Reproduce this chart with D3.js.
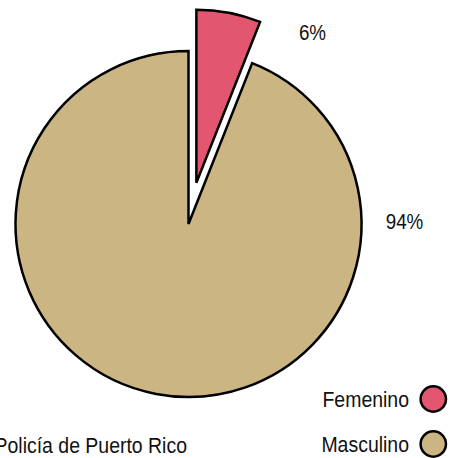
<!DOCTYPE html>
<html>
<head>
<meta charset="utf-8">
<script src="https://cdn.jsdelivr.net/npm/d3@7"></script>
<style>
  body { margin: 0; background: #fff; }
  text { font-family: "Liberation Sans", Arial, sans-serif; fill: #111; }
</style>
</head>
<body>
<svg id="chart" width="456" height="458"></svg>
<script>
// data
const categories = ['Femenino', 'Masculino'];
const values = [6, 94];
const labels = ['6%', '94%'];
const colors = ['#E2566F', '#CAB583'];
const caption = 'Policía de Puerto Rico';

const svg = d3.select('#chart');
const cx = 188.5, cy = 224, r = 173;
const explode = [42, 0];

const pie = d3.pie().sort(null).value(d => d)(values);
const arc = d3.arc().innerRadius(0).outerRadius(r);

const g = svg.append('g').attr('transform', `translate(${cx},${cy})`);

g.selectAll('path.slice')
  .data(pie)
  .join('path')
  .attr('class', 'slice')
  .attr('d', arc)
  .attr('transform', (d, i) => {
    const a = (d.startAngle + d.endAngle) / 2;
    return `translate(${Math.sin(a) * explode[i]},${-Math.cos(a) * explode[i]})`;
  })
  .attr('fill', (d, i) => colors[i])
  .attr('stroke', '#000')
  .attr('stroke-width', 2.5)
  .attr('stroke-linejoin', 'miter');

// percentage labels (slightly condensed type, like the original)
const labelPos = [[124, -184], [216, 5]];
g.selectAll('text.pct')
  .data(pie)
  .join('text')
  .attr('class', 'pct')
  .attr('transform', (d, i) => `translate(${labelPos[i][0]},${labelPos[i][1]}) scale(0.84,1)`)
  .attr('text-anchor', 'middle')
  .attr('font-size', 22.4)
  .text((d, i) => labels[i]);

// legend
const legend = svg.append('g');
const ly = d3.scalePoint().domain(categories).range([399, 444]);
legend.selectAll('circle')
  .data(categories)
  .join('circle')
  .attr('cx', 433.3)
  .attr('cy', d => ly(d))
  .attr('r', 12.7)
  .attr('fill', (d, i) => colors[i])
  .attr('stroke', '#000')
  .attr('stroke-width', 2.5);
legend.selectAll('text')
  .data(categories)
  .join('text')
  .attr('transform', d => `translate(409,${ly(d) + 7.5}) scale(0.91,1)`)
  .attr('text-anchor', 'end')
  .attr('font-size', 21.4)
  .text(d => d);

svg.append('text')
  .attr('transform', 'translate(187,453) scale(0.91,1)')
  .attr('text-anchor', 'end')
  .attr('font-size', 21.4)
  .text(caption);
</script>
</body>
</html>
